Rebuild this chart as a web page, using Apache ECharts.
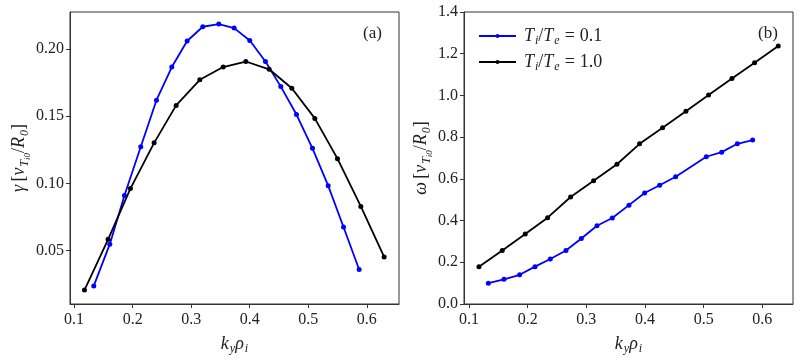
<!DOCTYPE html>
<html>
<head>
<meta charset="utf-8">
<script src="https://cdn.jsdelivr.net/npm/echarts@6/dist/echarts.min.js"></script>
<style>
  html, body { margin: 0; padding: 0; background: #fff; }
  #chart { width: 800px; height: 360px; }
</style>
</head>
<body>
<div id="chart"></div>
<script>
// panel (a): growth rate, panel (b): real frequency
const kyBlueA = [0.1336, 0.161, 0.186, 0.2139, 0.2407, 0.2669, 0.2931, 0.3198, 0.3472, 0.3734, 0.4001, 0.4269, 0.4531, 0.4799, 0.5072, 0.534, 0.5602, 0.5869];
const gammaBlue = [0.0236, 0.0547, 0.091, 0.1273, 0.162, 0.1867, 0.2061, 0.2167, 0.2187, 0.2157, 0.2065, 0.1908, 0.1721, 0.1513, 0.1261, 0.0983, 0.0675, 0.0358];
const kyBlackA = [0.1177, 0.1581, 0.1962, 0.2367, 0.2743, 0.3147, 0.3546, 0.3933, 0.4332, 0.4719, 0.5112, 0.5499, 0.5898, 0.6296];
const gammaBlack = [0.0205, 0.0583, 0.0961, 0.1302, 0.1581, 0.1772, 0.1867, 0.1908, 0.185, 0.1709, 0.1484, 0.1184, 0.0828, 0.0452];

const kyBlueB = [0.133, 0.1597, 0.1864, 0.2125, 0.2386, 0.2653, 0.2915, 0.3182, 0.3443, 0.3727, 0.3994, 0.425, 0.4523, 0.5045, 0.5307, 0.5574, 0.5835];
const omegaBlue = [0.0996, 0.1182, 0.14, 0.179, 0.216, 0.2567, 0.314, 0.375, 0.412, 0.474, 0.532, 0.569, 0.61, 0.706, 0.728, 0.768, 0.786];
const kyBlackB = [0.117, 0.1567, 0.1959, 0.234, 0.2732, 0.3124, 0.3522, 0.3908, 0.43, 0.4698, 0.5084, 0.5482, 0.5868, 0.6272];
const omegaBlack = [0.179, 0.2567, 0.336, 0.414, 0.513, 0.591, 0.67, 0.768, 0.845, 0.924, 1.002, 1.081, 1.157, 1.237];

const xTicks = [0.1, 0.2, 0.3, 0.4, 0.5, 0.6];
const gammaTicks = [0.05, 0.10, 0.15, 0.20];
const legendNames = ['T_i/T_e = 0.1', 'T_i/T_e = 1.0'];

const FONT = 'Liberation Serif';
const INK = '#222';

const zip = (xs, ys) => xs.map((x, i) => [x, ys[i]]);

// rich styles for the math-ish labels
const rich = {
  i: { fontFamily: FONT, fontStyle: 'italic', fontSize: 18, lineHeight: 20, color: INK },
  n: { fontFamily: FONT, fontSize: 18, lineHeight: 20, color: INK },
  s: { fontFamily: FONT, fontStyle: 'italic', fontSize: 12, lineHeight: 20, padding: [10, 0, 0, 1], color: INK },
  ss: { fontFamily: FONT, fontStyle: 'italic', fontSize: 9, lineHeight: 20, padding: [16, 0, 0, 0], color: INK },
  eq: { fontFamily: FONT, fontSize: 18, lineHeight: 20, padding: [0, 5, 0, 5], color: INK }
};

const unitPart = '{n|[}{i|v}{s|T}{ss|i0}{n|/}{i|R}{s|0}{n|]}';
const xName = '{i|k}{s|y}{i|ρ}{s|i}';

function xAxis(idx, min, max) {
  return {
    type: 'value', gridIndex: idx, min: min, max: max,
    name: xName, nameLocation: 'middle', nameGap: 30,
    nameTextStyle: { rich: rich },
    axisLine: { show: true, lineStyle: { color: '#333', width: 1 } },
    axisTick: { show: true, length: 4, customValues: xTicks, lineStyle: { color: '#333' } },
    axisLabel: { customValues: xTicks, margin: 8, fontFamily: FONT, fontSize: 16, color: INK,
      formatter: v => v.toFixed(1) },
    splitLine: { show: false }
  };
}

function yAxis(idx, min, max, opts) {
  return Object.assign({
    type: 'value', gridIndex: idx, min: min, max: max,
    nameLocation: 'middle', nameRotate: 90,
    nameTextStyle: { rich: rich },
    axisLine: { show: true, lineStyle: { color: '#333', width: 1 } },
    splitLine: { show: false }
  }, opts);
}

function lineSeries(name, color, xIdx, data) {
  return {
    name: name, type: 'line', xAxisIndex: xIdx, yAxisIndex: xIdx,
    data: data, symbol: 'circle', symbolSize: 5, showSymbol: true,
    lineStyle: { color: color, width: 1.8 }, itemStyle: { color: color },
    animation: false, silent: true
  };
}

const chart = echarts.init(document.getElementById('chart'), null, { renderer: 'canvas' });

chart.setOption({
  backgroundColor: '#fff',
  animation: false,
  grid: [
    { left: 70, right: 401, top: 12, bottom: 49, show: true, borderColor: '#333', borderWidth: 1 },
    { left: 464, right: 7, top: 12, bottom: 49, show: true, borderColor: '#333', borderWidth: 1 }
  ],
  xAxis: [xAxis(0, 0.093, 0.655), xAxis(1, 0.0915, 0.6523)],
  yAxis: [
    yAxis(0, 0.0101, 0.2277, {
      name: '{i|γ} ' + unitPart, nameGap: 40,
      axisTick: { show: true, length: 4, customValues: gammaTicks, lineStyle: { color: '#333' } },
      axisLabel: { customValues: gammaTicks, margin: 6, fontFamily: FONT, fontSize: 16, color: INK,
        formatter: v => v.toFixed(2) }
    }),
    yAxis(1, 0, 1.4, {
      name: '{i|ω} ' + unitPart, nameGap: 32, interval: 0.2,
      axisTick: { show: true, length: 4, lineStyle: { color: '#333' } },
      axisLabel: { margin: 6, fontFamily: FONT, fontSize: 16, color: INK,
        formatter: v => v.toFixed(1) }
    })
  ],
  legend: {
    orient: 'vertical', left: 473, top: 20,
    itemWidth: 37, itemHeight: 5, itemGap: 4,
    data: legendNames,
    formatter: name => name === legendNames[0]
      ? '{i|T}{s|i}{n|/}{i|T}{s|e}{eq|=}{n|0.1}'
      : '{i|T}{s|i}{n|/}{i|T}{s|e}{eq|=}{n|1.0}',
    textStyle: { rich: rich, padding: [0, 0, 0, 3] }
  },
  graphic: [
    { type: 'text', left: 363, top: 25, style: { text: '(a)', font: '17px "Liberation Serif"', fill: INK } },
    { type: 'text', left: 758, top: 25, style: { text: '(b)', font: '17px "Liberation Serif"', fill: INK } }
  ],
  series: [
    lineSeries('blue-a', '#0000ff', 0, zip(kyBlueA, gammaBlue)),
    lineSeries('black-a', '#000000', 0, zip(kyBlackA, gammaBlack)),
    lineSeries(legendNames[0], '#0000ff', 1, zip(kyBlueB, omegaBlue)),
    lineSeries(legendNames[1], '#000000', 1, zip(kyBlackB, omegaBlack))
  ]
});
</script>
</body>
</html>
